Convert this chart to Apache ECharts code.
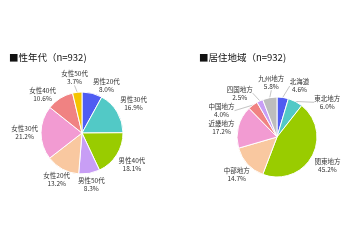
<!DOCTYPE html>
<html><head><meta charset="utf-8">
<script src="https://cdn.jsdelivr.net/npm/echarts@6/dist/echarts.min.js"></script>
<style>html,body{margin:0;padding:0;background:#fff}#c{width:360px;height:240px}</style>
</head><body><div id="c"></div>
<script>
const ageCategories = ['男性20代','男性30代','男性40代','男性50代','女性20代','女性30代','女性40代','女性50代'];
const ageValues = [8.0,16.9,18.1,8.3,13.2,21.2,10.6,3.7];
const ageColors = ['#4f5cf2','#52c9c6','#99cc00','#c89ef5','#f9c8a0','#f29bd2','#f08282','#f5c400'];
const regionCategories = ['北海道','東北地方','関東地方','中部地方','近畿地方','中国地方','四国地方','九州地方'];
const regionValues = [4.6,6.0,45.2,14.7,17.2,4.0,2.5,5.8];
const regionColors = ['#4f5cf2','#52c9c6','#99cc00','#f9c8a0','#f29bd2','#f08282','#c89ef5','#bdbdbd'];
const titles = ['■性年代（n=932)','■居住地域（n=932)'];

const font = '"Noto Sans CJK JP", sans-serif';
const FS = 6.5, LH = 8;
const ctx = document.createElement('canvas').getContext('2d');
ctx.font = FS + 'px ' + font;
const fmt = (n, v) => n + '\n' + v.toFixed(1) + '%';

// Spread label positions around the pie so they do not overlap (angles in degrees)
function labelPositions(center, r, cats, vals) {
  const total = vals.reduce((a, b) => a + b, 0);
  let acc = 0;
  const items = vals.map((v, i) => {
    const mid = acc + v / 2; acc += v;
    const lines = fmt(cats[i], v).split('\n');
    const w = Math.max.apply(null, lines.map(s => ctx.measureText(s).width));
    return { th: 90 - mid / total * 360, w: w, h: LH * lines.length, gap: v < 7 ? 7 : 3 };
  });
  function place(it) {
    const a = it.th * Math.PI / 180, ux = Math.cos(a), uy = -Math.sin(a);
    const hw = it.w / 2, hh = it.h / 2;
    const ext = Math.min(Math.abs(ux) > 1e-6 ? hw / Math.abs(ux) : 1e9, Math.abs(uy) > 1e-6 ? hh / Math.abs(uy) : 1e9);
    const R = r + it.gap + ext;
    it.x = center[0] + ux * R; it.y = center[1] + uy * R;
  }
  const overlap = (a, b) => Math.abs(a.x - b.x) < (a.w + b.w) / 2 + 5 && Math.abs(a.y - b.y) < (a.h + b.h) / 2 + 1;
  items.forEach(place);
  for (let iter = 0; iter < 600; iter++) {
    let moved = false;
    for (let i = 0; i < items.length; i++) for (let j = i + 1; j < items.length; j++) {
      const A = items[i], B = items[j];
      if (!overlap(A, B)) continue;
      let d = B.th - A.th; while (d > 180) d -= 360; while (d <= -180) d += 360;
      const s = d >= 0 ? 1 : -1;
      A.th -= s * 0.5; B.th += s * 0.5; place(A); place(B); moved = true;
    }
    if (!moved) break;
  }
  return items;
}

function pie(center, r, cats, vals, cols) {
  const pos = labelPositions(center, r, cats, vals);
  return {
    type: 'pie', center: center, radius: r, startAngle: 90, clockwise: true,
    data: cats.map((n, i) => ({ name: n, value: vals[i], itemStyle: { color: cols[i] },
      labelLine: { show: vals[i] < 7 } })),
    itemStyle: { borderColor: '#fff', borderWidth: 1 },
    label: { show: true, position: 'outside', formatter: p => fmt(p.name, p.value),
      fontSize: FS, lineHeight: LH, color: '#333', fontFamily: font, overflow: 'none' },
    labelLine: { length: 5, length2: 0, lineStyle: { color: '#aaa', width: 0.7 } },
    labelLayout: p => ({ x: pos[p.dataIndex].x, y: pos[p.dataIndex].y, align: 'center', verticalAlign: 'middle' }),
    emphasis: { disabled: true }, animation: false
  };
}
const chart = echarts.init(document.getElementById('c'));
chart.setOption({
  backgroundColor: '#fff',
  title: [
    { text: titles[0], left: 4, top: 48, textStyle: { fontSize: 9.5, fontWeight: 'normal', color: '#111', fontFamily: font } },
    { text: titles[1], left: 194, top: 48, textStyle: { fontSize: 9.5, fontWeight: 'normal', color: '#111', fontFamily: font } }
  ],
  series: [
    pie([82, 133], 41, ageCategories, ageValues, ageColors),
    pie([277, 137], 40, regionCategories, regionValues, regionColors)
  ]
});
</script></body></html>
